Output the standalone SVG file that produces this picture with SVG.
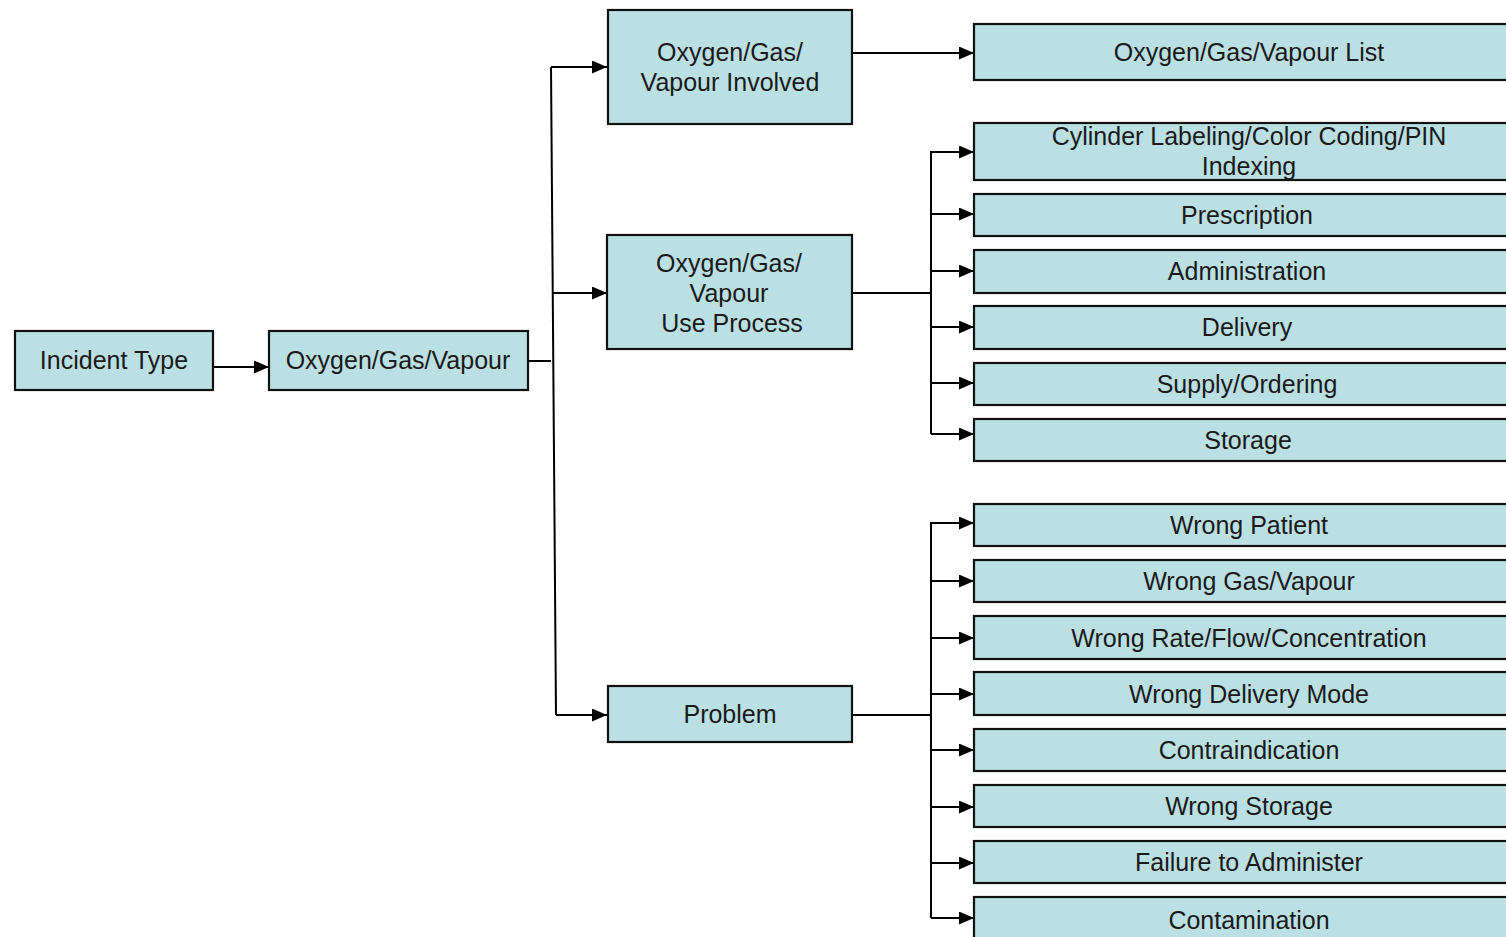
<svg xmlns="http://www.w3.org/2000/svg" width="1506" height="937" viewBox="0 0 1506 937">
<style>
.box{fill:#BAE0E3;stroke:#111;stroke-width:2.2}
.t{font-family:"Liberation Sans",Arial,sans-serif;font-size:25px;fill:#1a1a1a;text-anchor:middle}
.c{fill:none;stroke:#000;stroke-width:2}
</style>
<defs>
<marker id="ar" viewBox="0 0 15 13" refX="15" refY="6.5" markerWidth="15" markerHeight="13" markerUnits="userSpaceOnUse" orient="auto">
<path d="M0,0 L15,6.5 L0,13 Z" fill="#000"/>
</marker>
</defs>
<rect width="1506" height="937" fill="#fff"/>
<g id="connectors">
<path class="c" d="M213,367 H269" marker-end="url(#ar)"/>
<path class="c" d="M528,361 H551"/>
<path class="c" d="M551,67 L556,715"/>
<path class="c" d="M551,67 H607" marker-end="url(#ar)"/>
<path class="c" d="M552,293 H607" marker-end="url(#ar)"/>
<path class="c" d="M556,715 H607" marker-end="url(#ar)"/>
<path class="c" d="M852,53 H974" marker-end="url(#ar)"/>
<path class="c" d="M852,293 H931"/>
<path class="c" d="M931,151 V434"/>
<path class="c" d="M931,152 H974" marker-end="url(#ar)"/>
<path class="c" d="M931,214 H974" marker-end="url(#ar)"/>
<path class="c" d="M931,271 H974" marker-end="url(#ar)"/>
<path class="c" d="M931,327 H974" marker-end="url(#ar)"/>
<path class="c" d="M931,383 H974" marker-end="url(#ar)"/>
<path class="c" d="M931,434 H974" marker-end="url(#ar)"/>
<path class="c" d="M852,715 H931"/>
<path class="c" d="M931,522 V918"/>
<path class="c" d="M931,523 H974" marker-end="url(#ar)"/>
<path class="c" d="M931,581 H974" marker-end="url(#ar)"/>
<path class="c" d="M931,638 H974" marker-end="url(#ar)"/>
<path class="c" d="M931,694 H974" marker-end="url(#ar)"/>
<path class="c" d="M931,750 H974" marker-end="url(#ar)"/>
<path class="c" d="M931,807 H974" marker-end="url(#ar)"/>
<path class="c" d="M931,863 H974" marker-end="url(#ar)"/>
<path class="c" d="M931,918 H974" marker-end="url(#ar)"/>
</g>
<g id="incident-type"><rect class="box" x="15" y="331" width="198" height="59"/><text class="t" x="114" y="369">Incident Type</text></g>
<g id="ogv"><rect class="box" x="269" y="331" width="259" height="59"/><text class="t" x="398" y="369">Oxygen/Gas/Vapour</text></g>
<g id="ogv-involved"><rect class="box" x="608" y="10" width="244" height="114"/><text class="t" x="730" y="61">Oxygen/Gas/</text><text class="t" x="730" y="91">Vapour Involved</text></g>
<g id="ogv-use"><rect class="box" x="607" y="235" width="245" height="114"/><text class="t" x="729" y="272">Oxygen/Gas/</text><text class="t" x="729" y="302">Vapour</text><text class="t" x="732" y="332">Use Process</text></g>
<g id="problem"><rect class="box" x="608" y="686" width="244" height="56"/><text class="t" x="730" y="723">Problem</text></g>
<g id="ogv-list"><rect class="box" x="974" y="24" width="540" height="56"/><text class="t" x="1249" y="61">Oxygen/Gas/Vapour List</text></g>
<g id="cylinder"><rect class="box" x="974" y="123" width="540" height="57"/><text class="t" x="1249" y="145">Cylinder Labeling/Color Coding/PIN</text><text class="t" x="1249" y="175">Indexing</text></g>
<g id="prescription"><rect class="box" x="974" y="194" width="540" height="42"/><text class="t" x="1247" y="224">Prescription</text></g>
<g id="administration"><rect class="box" x="974" y="250" width="540" height="43"/><text class="t" x="1247" y="280">Administration</text></g>
<g id="delivery"><rect class="box" x="974" y="306" width="540" height="43"/><text class="t" x="1247" y="336">Delivery</text></g>
<g id="supply"><rect class="box" x="974" y="363" width="540" height="42"/><text class="t" x="1247" y="393">Supply/Ordering</text></g>
<g id="storage"><rect class="box" x="974" y="419" width="540" height="42"/><text class="t" x="1248" y="449">Storage</text></g>
<g id="wrong-patient"><rect class="box" x="974" y="504" width="540" height="42"/><text class="t" x="1249" y="534">Wrong Patient</text></g>
<g id="wrong-gas"><rect class="box" x="974" y="560" width="540" height="42"/><text class="t" x="1249" y="590">Wrong Gas/Vapour</text></g>
<g id="wrong-rate"><rect class="box" x="974" y="616" width="540" height="43"/><text class="t" x="1249" y="647">Wrong Rate/Flow/Concentration</text></g>
<g id="wrong-delivery"><rect class="box" x="974" y="672" width="540" height="43"/><text class="t" x="1249" y="703">Wrong Delivery Mode</text></g>
<g id="contraindication"><rect class="box" x="974" y="729" width="540" height="42"/><text class="t" x="1249" y="759">Contraindication</text></g>
<g id="wrong-storage"><rect class="box" x="974" y="785" width="540" height="42"/><text class="t" x="1249" y="815">Wrong Storage</text></g>
<g id="failure"><rect class="box" x="974" y="841" width="540" height="42"/><text class="t" x="1249" y="871">Failure to Administer</text></g>
<g id="contamination"><rect class="box" x="974" y="897" width="540" height="60"/><text class="t" x="1249" y="929">Contamination</text></g>
</svg>
